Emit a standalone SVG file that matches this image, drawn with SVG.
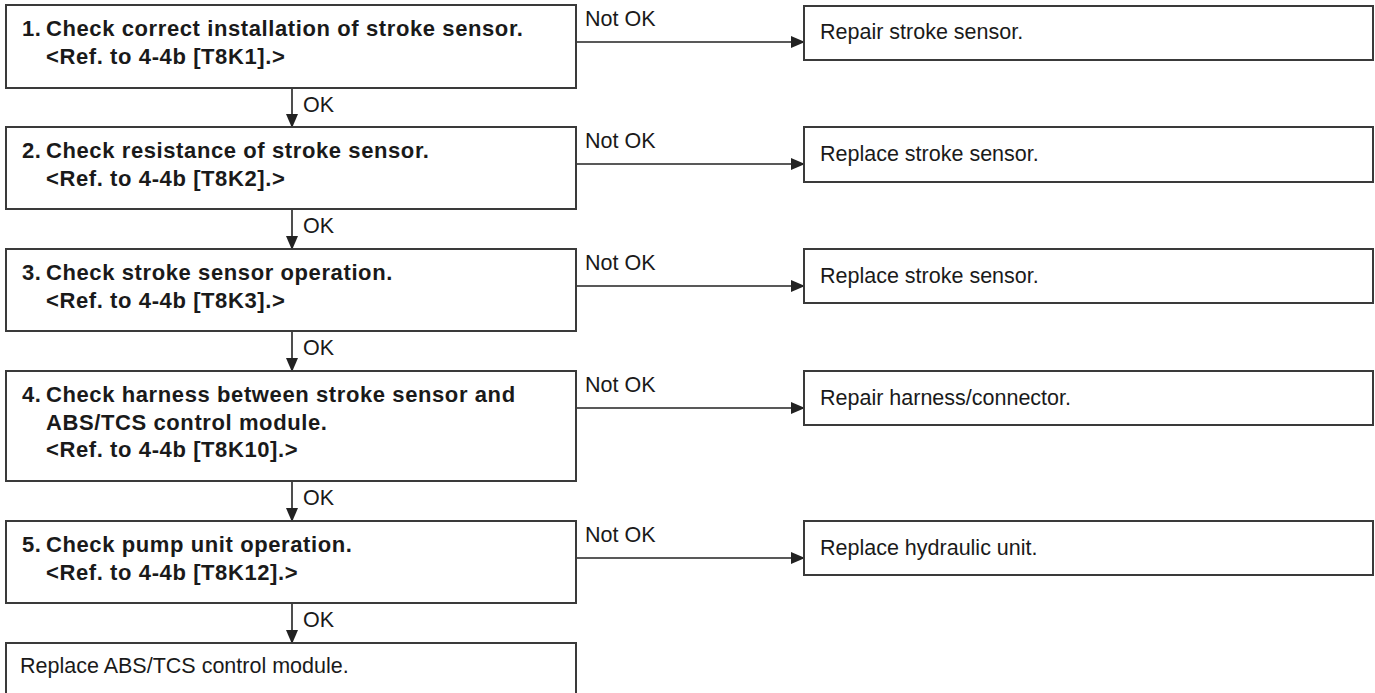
<svg xmlns="http://www.w3.org/2000/svg" width="1375" height="693" viewBox="0 0 1375 693">
<style>
.box{fill:#fff;stroke:#3a3a3a;stroke-width:2}
.b{font-family:"Liberation Sans",Arial,sans-serif;font-weight:bold;font-size:22px;letter-spacing:0.6px;fill:#1a1a1a}
.t{font-family:"Liberation Sans",Arial,sans-serif;font-size:21.5px;fill:#1a1a1a}
.ln{stroke:#222;stroke-width:1.6;fill:none}
</style>
<defs>
<marker id="ah" markerWidth="14" markerHeight="12" refX="13" refY="6" orient="auto" markerUnits="userSpaceOnUse">
<path d="M0,0 L14,6 L0,12 Z" fill="#222"/>
</marker>
</defs>
<rect width="1375" height="693" fill="#fff"/>
<g id="connectors">
<path class="ln" d="M292,88 V127" marker-end="url(#ah)"/>
<path class="ln" d="M292,209 V249" marker-end="url(#ah)"/>
<path class="ln" d="M292,331 V371" marker-end="url(#ah)"/>
<path class="ln" d="M292,481 V521" marker-end="url(#ah)"/>
<path class="ln" d="M292,603 V643" marker-end="url(#ah)"/>
<path class="ln" d="M576,42 H804" marker-end="url(#ah)"/>
<path class="ln" d="M576,164 H804" marker-end="url(#ah)"/>
<path class="ln" d="M576,286 H804" marker-end="url(#ah)"/>
<path class="ln" d="M576,408 H804" marker-end="url(#ah)"/>
<path class="ln" d="M576,558 H804" marker-end="url(#ah)"/>
<text class="t" x="303" y="112">OK</text>
<text class="t" x="303" y="233">OK</text>
<text class="t" x="303" y="355">OK</text>
<text class="t" x="303" y="505">OK</text>
<text class="t" x="303" y="627">OK</text>
<text class="t" x="585" y="26">Not OK</text>
<text class="t" x="585" y="148">Not OK</text>
<text class="t" x="585" y="270">Not OK</text>
<text class="t" x="585" y="392">Not OK</text>
<text class="t" x="585" y="542">Not OK</text>
</g>
<g id="step1">
<rect class="box" x="6" y="5" width="570" height="83"/>
<text class="b" y="36"><tspan x="22">1.</tspan><tspan x="46">Check correct installation of stroke sensor.</tspan></text>
<text class="b" x="46" y="63.5">&lt;Ref. to 4-4b [T8K1].&gt;</text>
</g>
<g id="fix1">
<rect class="box" x="804" y="6" width="569" height="54"/>
<text class="t" x="820" y="39">Repair stroke sensor.</text>
</g>
<g id="step2">
<rect class="box" x="6" y="127" width="570" height="82"/>
<text class="b" y="158"><tspan x="22">2.</tspan><tspan x="46">Check resistance of stroke sensor.</tspan></text>
<text class="b" x="46" y="185.5">&lt;Ref. to 4-4b [T8K2].&gt;</text>
</g>
<g id="fix2">
<rect class="box" x="804" y="127" width="569" height="55"/>
<text class="t" x="820" y="161">Replace stroke sensor.</text>
</g>
<g id="step3">
<rect class="box" x="6" y="249" width="570" height="82"/>
<text class="b" y="280"><tspan x="22">3.</tspan><tspan x="46">Check stroke sensor operation.</tspan></text>
<text class="b" x="46" y="307.5">&lt;Ref. to 4-4b [T8K3].&gt;</text>
</g>
<g id="fix3">
<rect class="box" x="804" y="249" width="569" height="54"/>
<text class="t" x="820" y="283">Replace stroke sensor.</text>
</g>
<g id="step4">
<rect class="box" x="6" y="371" width="570" height="110"/>
<text class="b" y="402"><tspan x="22">4.</tspan><tspan x="46">Check harness between stroke sensor and</tspan></text>
<text class="b" x="46" y="429.5">ABS/TCS control module.</text>
<text class="b" x="46" y="457">&lt;Ref. to 4-4b [T8K10].&gt;</text>
</g>
<g id="fix4">
<rect class="box" x="804" y="371" width="569" height="54"/>
<text class="t" x="820" y="405">Repair harness/connector.</text>
</g>
<g id="step5">
<rect class="box" x="6" y="521" width="570" height="82"/>
<text class="b" y="552"><tspan x="22">5.</tspan><tspan x="46">Check pump unit operation.</tspan></text>
<text class="b" x="46" y="579.5">&lt;Ref. to 4-4b [T8K12].&gt;</text>
</g>
<g id="fix5">
<rect class="box" x="804" y="521" width="569" height="54"/>
<text class="t" x="820" y="555">Replace hydraulic unit.</text>
</g>
<g id="final">
<rect class="box" x="6" y="643" width="570" height="70"/>
<text class="t" x="20" y="673">Replace ABS/TCS control module.</text>
</g>
</svg>
